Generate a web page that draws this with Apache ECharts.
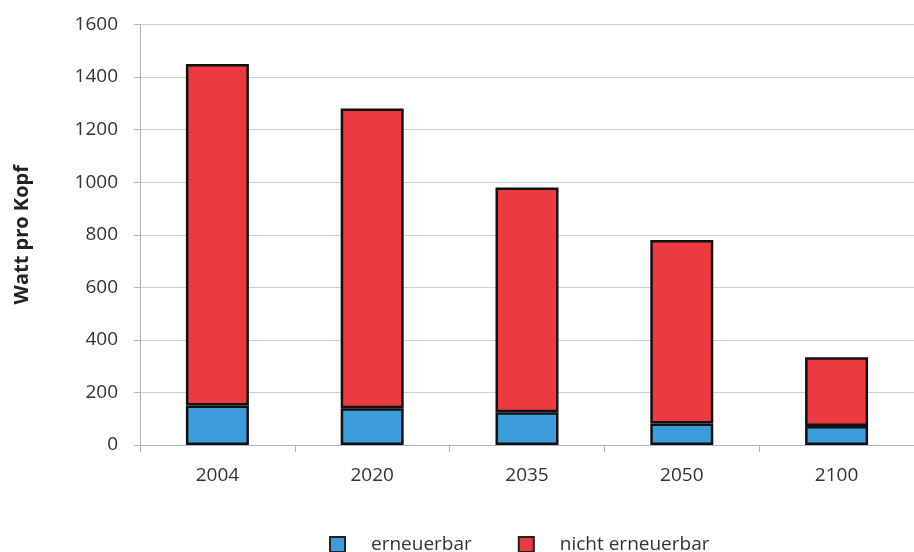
<!DOCTYPE html>
<html>
<head>
<meta charset="utf-8">
<script src="https://cdn.jsdelivr.net/npm/echarts@6/dist/echarts.min.js"></script>
<style>
  html, body { margin: 0; padding: 0; background: #ffffff; }
  #chart { width: 914px; height: 552px; }
</style>
</head>
<body>
<div id="chart"></div>
<script>
// Energy use per person, split by source
const years = ['2004', '2020', '2035', '2050', '2100'];
const renewable = [150, 140, 125, 82, 72];
const totals = [1450, 1280, 980, 780, 334];
const nonRenewable = totals.map((t, i) => t - renewable[i]);
const yTicks = [0, 200, 400, 600, 800, 1000, 1200, 1400, 1600];

const FONT = '"Open Sans", "Noto Sans", sans-serif';
const AXIS_COLOR = '#aab6c2';
const GRID_COLOR = '#c9d0d8';

const chart = echarts.init(document.getElementById('chart'), null, { renderer: 'canvas' });

const barStyle = (color) => ({
  color: color,
  borderColor: '#111111',
  borderWidth: 2.5
});

chart.setOption({
  animation: false,
  backgroundColor: '#ffffff',
  grid: { left: 140, top: 24.5, width: 778, height: 420.5, containLabel: false },
  legend: {
    data: ['erneuerbar', 'nicht erneuerbar'],
    left: 324,
    top: 530,
    itemWidth: 15,
    itemHeight: 15,
    itemGap: 46,
    icon: 'rect',
    itemStyle: { borderColor: '#222222', borderWidth: 2 },
    textStyle: { fontFamily: FONT, fontSize: 19, color: '#333333', padding: [0, 0, 0, 21] }
  },
  xAxis: {
    type: 'category',
    data: years,
    axisLine: { lineStyle: { color: AXIS_COLOR, width: 1 } },
    axisTick: { show: true, inside: false, length: 7, alignWithLabel: false, lineStyle: { color: AXIS_COLOR } },
    axisLabel: { fontFamily: FONT, fontSize: 19, color: '#333333', margin: 21 },
    splitLine: { show: false }
  },
  yAxis: {
    type: 'value',
    min: yTicks[0],
    max: yTicks[yTicks.length - 1],
    interval: 200,
    name: 'Watt pro Kopf',
    nameLocation: 'middle',
    nameGap: 108,
    nameRotate: 90,
    nameTextStyle: { fontFamily: FONT, fontSize: 20, fontWeight: 'bold', color: '#222222' },
    axisLine: { show: true, lineStyle: { color: AXIS_COLOR, width: 1 } },
    axisTick: { show: true, length: 6, lineStyle: { color: AXIS_COLOR } },
    axisLabel: {
      fontFamily: FONT, fontSize: 19, color: '#333333', margin: 22,
      formatter: (v) => String(v)
    },
    splitLine: { show: true, lineStyle: { color: GRID_COLOR, width: 1 } }
  },
  series: [
    {
      name: 'erneuerbar',
      type: 'bar',
      stack: 'total',
      barWidth: 63,
      data: renewable,
      itemStyle: barStyle('#3d9cd9')
    },
    {
      name: 'nicht erneuerbar',
      type: 'bar',
      stack: 'total',
      barWidth: 63,
      data: nonRenewable,
      itemStyle: barStyle('#eb3a40')
    }
  ]
});
</script>
</body>
</html>
